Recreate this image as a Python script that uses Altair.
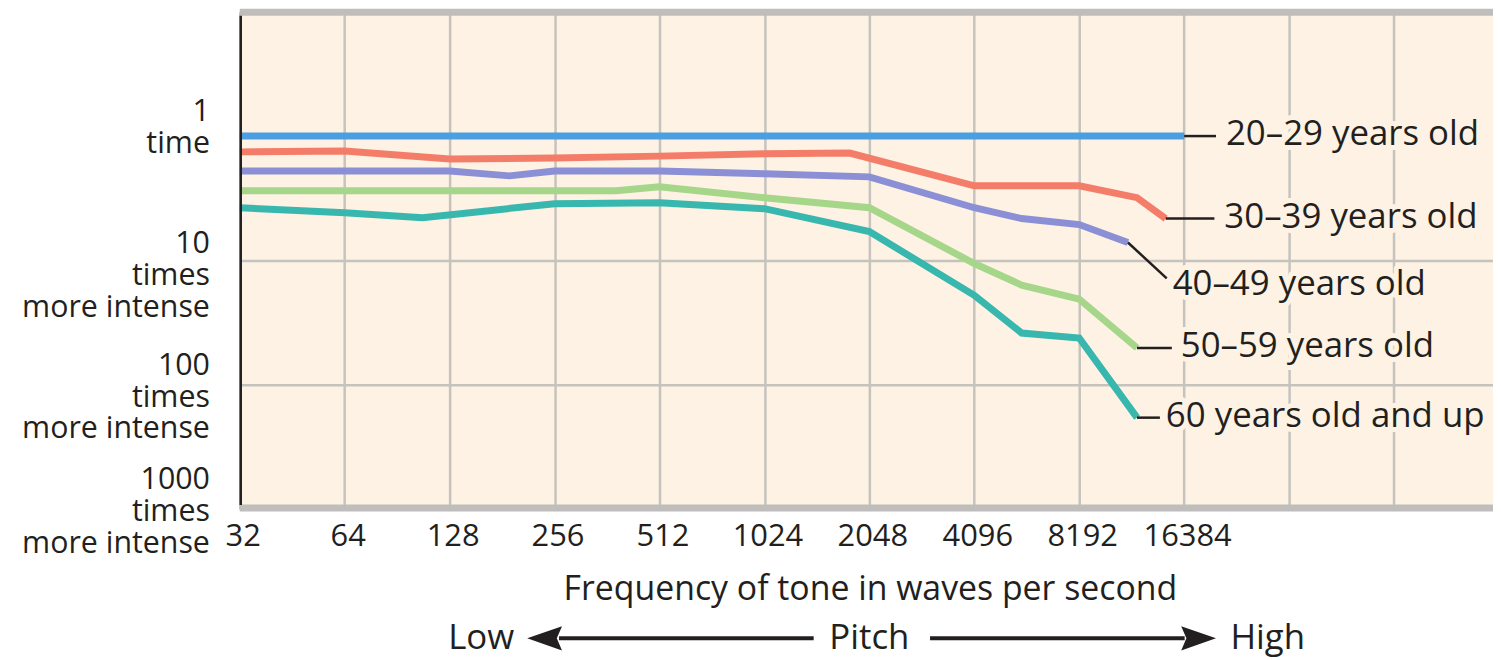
import altair as alt
import pandas as pd

# ---------------- data ----------------
SERIES = ["20–29 years old", "30–39 years old", "40–49 years old",
          "50–59 years old", "60 years old and up"]

f_20 = [32, 64, 128, 256, 512, 1024, 2048, 4096, 8192, 16384]
v_20 = [1, 1, 1, 1, 1, 1, 1, 1, 1, 1]
f_30 = [32, 64, 128, 256, 512, 1024, 1800, 4096, 8192, 12000, 14500]
v_30 = [1.34, 1.32, 1.53, 1.50, 1.45, 1.39, 1.37, 2.51, 2.51, 3.13, 4.61]
f_40 = [32, 64, 128, 190, 256, 512, 1024, 2048, 4096, 5600, 8192, 11300]
v_40 = [1.91, 1.91, 1.91, 2.09, 1.91, 1.91, 2.01, 2.13, 3.77, 4.61, 5.15, 7.18]
f_50 = [32, 64, 128, 256, 384, 512, 1024, 2048, 4096, 5600, 8192, 12000]
v_50 = [2.75, 2.75, 2.75, 2.75, 2.75, 2.56, 3.13, 3.77, 10.6, 15.8, 20.5, 50.6]
f_60 = [32, 64, 107, 256, 512, 1024, 2048, 4096, 5600, 8192, 12000]
v_60 = [3.77, 4.13, 4.53, 3.50, 3.44, 3.84, 5.86, 19.1, 38.4, 42.1, 184]

X_TICKS = [32, 64, 128, 256, 512, 1024, 2048, 4096, 8192, 16384, 32768, 65536]
LAST_LABELLED = 16384
Y_GRID = [10, 100]
Y_LABEL_VALUES = [1, 10, 100, 1000]
Y_LABEL_TEXTS = ["1\ntime", "10\ntimes\nmore intense",
                 "100\ntimes\nmore intense", "1000\ntimes\nmore intense"]
X_TITLE = ["Frequency of tone in waves per second"]
PITCH_WORDS = ["Low", "Pitch", "High"]

# ---------------- styles ----------------
BG = "#fdf2e3"
INK = "#231f20"
GRID = "#c6c3be"
BAR = "#bfbebc"
COLORS = ["#4b9fe1", "#f47d6a", "#8b8fd5", "#a6d689", "#37b7ae"]
FONT = "Open Sans"
W, H = 1260, 500
OCTAVE_PX = 105.5
X_MAX = 32 * 2 ** (W / OCTAVE_PX)

rows = []
for name, fs, vs in zip(SERIES, [f_20, f_30, f_40, f_50, f_60],
                        [v_20, v_30, v_40, v_50, v_60]):
    for f, v in zip(fs, vs):
        rows.append({"series": name, "freq": f, "val": v})
df = pd.DataFrame(rows)
last = df.groupby("series", sort=False).tail(1).reset_index(drop=True)

xs = alt.Scale(type="log", base=2, domain=[32, X_MAX], nice=False, zero=False)
ys = alt.Scale(type="log", domain=[0.1, 1000], reverse=True, nice=False, zero=False)

x_axis = alt.Axis(values=X_TICKS, grid=True, gridColor=GRID, gridWidth=2.5,
                  ticks=False, tickSize=0, domain=False, title=None,
                  labelExpr=f"datum.value <= {LAST_LABELLED} ? format(datum.value, 'd') : ''",
                  labelFont=FONT, labelFontSize=31, labelColor=INK,
                  labelPadding=13, labelFlush=False, labelOverlap=False,
                  labelOffset=3, orient="bottom")
y_axis = alt.Axis(values=Y_GRID, grid=True, gridColor=GRID, gridWidth=2.5,
                  ticks=False, tickSize=0, domain=False, labels=False, title=None,
                  orient="left")

X = lambda: alt.X("freq:Q", scale=xs, axis=None)
Y = lambda: alt.Y("val:Q", scale=ys, axis=None)

lines = alt.Chart(df).mark_line(strokeWidth=7).encode(
    x=alt.X("freq:Q", scale=xs, axis=x_axis),
    y=alt.Y("val:Q", scale=ys, axis=y_axis),
    color=alt.Color("series:N", scale=alt.Scale(domain=SERIES, range=COLORS), legend=None),
)

frame = alt.Chart(pd.DataFrame({"k": [0]}))
top_bar = frame.mark_rule(color=BAR, strokeWidth=7).encode(
    x=alt.value(0), x2=alt.value(W), y=alt.value(0.5))
bottom_bar = frame.mark_rule(color=BAR, strokeWidth=7).encode(
    x=alt.value(0), x2=alt.value(W), y=alt.value(499))
left_axis = frame.mark_rule(color=INK, strokeWidth=2.5).encode(
    x=alt.value(1), y=alt.value(4), y2=alt.value(496))

# per-series leader / label offsets (pixels): leader dx, leader dy, text dx, text dy
OFFS = [(32, 0, 42, 9), (49, 0, 59, 9), (39, 36, 45, 53), (35, 0, 44, 9), (23, 0, 29, 9)]
LABEL_SIZE = 35

leaders, halos, labels = [], [], []
for name, (ldx, ldy, tdx, tdy) in zip(SERIES, OFFS):
    d = last[last["series"] == name]
    leaders.append(alt.Chart(d).mark_rule(color=INK, strokeWidth=2.5,
                                          x2Offset=ldx, y2Offset=ldy).encode(
        x=X(), y=Y(), x2="freq:Q", y2="val:Q"))
    halos.append(alt.Chart(d).mark_text(align="left", baseline="alphabetic", dx=tdx, dy=tdy,
                                        font=FONT, fontSize=LABEL_SIZE, color=BG, stroke=BG,
                                        strokeWidth=10, strokeJoin="round").encode(
        x=X(), y=Y(), text="series:N"))
    labels.append(alt.Chart(d).mark_text(align="left", baseline="alphabetic", dx=tdx, dy=tdy,
                                         font=FONT, fontSize=LABEL_SIZE, color=INK).encode(
        x=X(), y=Y(), text="series:N"))

# y labels (multi-line text anchored on their values)
YDY = [-39, -31, -34, -44]
ylabs = []
for v, t, dy in zip(Y_LABEL_VALUES, Y_LABEL_TEXTS, YDY):
    d = pd.DataFrame({"val": [v], "txt": [t]})
    ylabs.append(alt.Chart(d).mark_text(align="right", baseline="top", lineBreak="\n",
                                        lineHeight=32, dy=dy, font=FONT, fontSize=30.5,
                                        color=INK).encode(
        x=alt.value(-30), y=Y(), text="txt:N"))

title = alt.Chart(pd.DataFrame({"t": X_TITLE})).mark_text(
    align="center", baseline="alphabetic", font=FONT, fontSize=34, color=INK).encode(
    x=alt.value(634), y=alt.value(591), text="t:N")

pw = pd.DataFrame({"t": PITCH_WORDS})
low = alt.Chart(pw[pw.t == "Low"]).mark_text(
    align="right", baseline="alphabetic", font=FONT, fontSize=35, color=INK).encode(
    x=alt.value(276), y=alt.value(641), text="t:N")
pitch = alt.Chart(pw[pw.t == "Pitch"]).mark_text(
    align="center", baseline="alphabetic", font=FONT, fontSize=35, color=INK).encode(
    x=alt.value(633), y=alt.value(641), text="t:N")
high = alt.Chart(pw[pw.t == "High"]).mark_text(
    align="left", baseline="alphabetic", font=FONT, fontSize=35, color=INK).encode(
    x=alt.value(996), y=alt.value(641), text="t:N")

AY = 630
arrow_l = frame.mark_rule(color=INK, strokeWidth=4).encode(
    x=alt.value(321), x2=alt.value(577), y=alt.value(AY))
arrow_r = frame.mark_rule(color=INK, strokeWidth=4).encode(
    x=alt.value(694), x2=alt.value(950), y=alt.value(AY))
head_l = frame.mark_point(shape="M-1,0L1,-0.7L0.7,0L1,0.7Z", filled=True, size=1225,
                          color=INK, opacity=1, strokeWidth=0).encode(
    x=alt.value(306.5), y=alt.value(AY))
head_r = frame.mark_point(shape="M1,0L-1,-0.7L-0.7,0L-1,0.7Z", filled=True, size=1225,
                          color=INK, opacity=1, strokeWidth=0).encode(
    x=alt.value(964), y=alt.value(AY))

chart = alt.layer(
    lines, top_bar, bottom_bar, left_axis, *leaders, *halos, *labels, *ylabs,
    title, low, pitch, high, arrow_l, arrow_r, head_l, head_r,
).resolve_axis(x="independent", y="independent").properties(
    width=W, height=H,
    padding={"left": 233, "top": 2, "right": 0, "bottom": 150},
    autosize=alt.AutoSizeParams(type="none"),
    background="white",
).configure_view(fill=BG, stroke=None)

chart.save("out.html", embed_options={"renderer": "svg", "actions": False})
